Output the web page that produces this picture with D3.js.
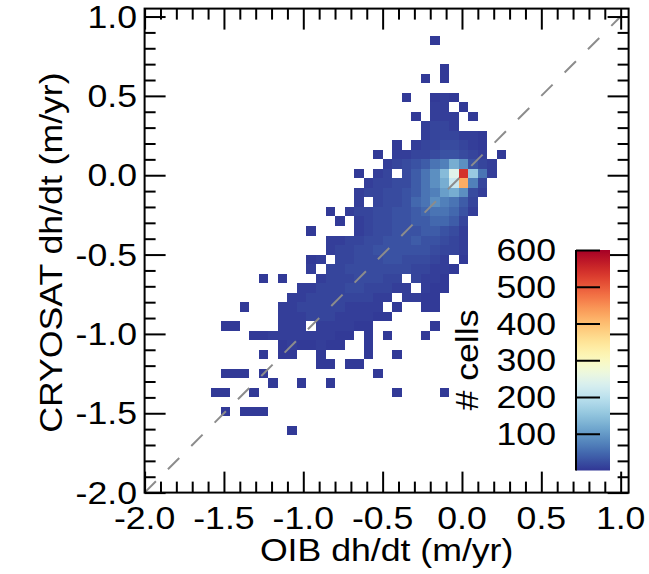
<!DOCTYPE html>
<html>
<head>
<meta charset="utf-8">
<script src="https://cdn.jsdelivr.net/npm/d3@7"></script>
<style>
  body { margin: 0; background: #fff; }
  svg { display: block; }
  text { font-family: "Liberation Sans", Arial, sans-serif; font-size: 31px; fill: #000; }
</style>
</head>
<body>
<svg id="chart" width="649" height="574"></svg>
<script>
// Density of CryoSat vs OIB dh/dt: 2-D histogram on a 0.06 m/yr grid
const binStart = -2.0;
const binWidth = 0.06;

// Count per code letter ('.' = empty bin)
const countCodes = {
  '1': 4, '2': 8, '3': 14, '4': 20, '5': 27, '6': 36, '7': 48, '8': 60, '9': 72,
  'a': 88, 'b': 105, 'c': 122, 'd': 140, 'e': 160, 'f': 215, 'g': 245, 'h': 420, 'i': 540
};

// [row index (y bin), first column index (x bin), codes for consecutive x bins]
const countRows = [
  [47, 30, "1"],
  [44, 31, "1"],
  [43, 29, "1.1"],
  [41, 27, "1..121"],
  [40, 30, "22.1"],
  [39, 28, "1.222.1"],
  [38, 29, "2332"],
  [37, 29, "2333221"],
  [36, 26, "1.23344321"],
  [35, 24, "1.2233455432.1"],
  [34, 25, "2345689ca532"],
  [33, 22, "1.23.468adgie82"],
  [32, 23, "2334468acfh93"],
  [31, 22, "233445689bca42"],
  [30, 22, "2.344578a9863"],
  [29, 19, "1.23344556788752"],
  [28, 20, "1.234455667763"],
  [27, 17, "1....234455566542"],
  [26, 19, "223344555655432"],
  [25, 19, "233445555554332"],
  [24, 17, "12.334445544432.1"],
  [23, 17, "2.33444444433221"],
  [22, 12, "1.1...233344433.3221"],
  [21, 16, "223334433322.211"],
  [20, 15, "22333333322.2211"],
  [19, 10, "1...22333332222.1..11"],
  [18, 14, "222333222211"],
  [17, 8, "11....222.222211......1"],
  [16, 11, "11222222211.1.1...1"],
  [15, 14, "1211211..1"],
  [14, 12, "1.11..1....1..1"],
  [13, 18, "11.11"],
  [12, 8, "111.1...........1"],
  [11, 13, "1..1..1"],
  [10, 7, "11..1..............1....1"],
  [8, 8, "1.111"],
  [6, 15, "1"]
];

const axisTicks = [-2.0, -1.5, -1.0, -0.5, 0.0, 0.5, 1.0];
const colorTicks = [100, 200, 300, 400, 500, 600];
const colorMax = 600;
const xTitle = "OIB dh/dt (m/yr)";
const yTitle = "CRYOSAT dh/dt (m/yr)";
const colorTitle = "# cells";

// Flatten the rows into bins
const bins = [];
countRows.forEach(([j, i0, codes]) => {
  [...codes].forEach((c, k) => {
    if (c !== '.') bins.push({ i: i0 + k, j: j, count: countCodes[c] });
  });
});

const svg = d3.select("#chart");
const plot = { left: 144.6, right: 628.6, top: 8.6, bottom: 492.6 };
const x = d3.scaleLinear().domain([-2, 1.05]).range([plot.left, plot.right]);
const y = d3.scaleLinear().domain([-2, 1.05]).range([plot.bottom, plot.top]);
const color = v => d3.interpolateRdYlBu(1 - Math.min(v, colorMax) / colorMax);
const textStretch = 1.15;

function label(parent, px, py, str, anchor, rot) {
  const g = parent.append("g")
    .attr("transform", `translate(${px},${py})${rot ? ` rotate(${rot})` : ""} scale(${textStretch},1)`);
  g.append("text").attr("text-anchor", anchor).text(str);
}

// Histogram cells
svg.append("g").selectAll("rect").data(bins).join("rect")
  .attr("x", d => x(binStart + binWidth * d.i))
  .attr("y", d => y(binStart + binWidth * (d.j + 1)))
  .attr("width", d => x(binStart + binWidth * (d.i + 1)) - x(binStart + binWidth * d.i))
  .attr("height", d => y(binStart + binWidth * d.j) - y(binStart + binWidth * (d.j + 1)))
  .attr("fill", d => color(d.count))
  .attr("shape-rendering", "crispEdges");

// 1:1 reference line
svg.append("line")
  .attr("x1", x(-2)).attr("y1", y(-2))
  .attr("x2", x(1)).attr("y2", y(1))
  .attr("stroke", "#8c8c8c").attr("stroke-width", 2)
  .attr("stroke-dasharray", "16,17");

// Frame
svg.append("rect")
  .attr("x", plot.left).attr("y", plot.top)
  .attr("width", plot.right - plot.left).attr("height", plot.bottom - plot.top)
  .attr("fill", "none").attr("stroke", "#000").attr("stroke-width", 2);

// Inward ticks on all four sides
const minorTicks = d3.range(-20, 11).map(k => k / 10).filter(v => Math.abs(v * 2 - Math.round(v * 2)) > 1e-6);
function tickAxis(axisFn, scale, values, len, tx, ty) {
  svg.append("g").attr("transform", `translate(${tx},${ty})`)
    .call(axisFn(scale).tickValues(values).tickSize(-len).tickFormat(""))
    .call(g => g.select(".domain").remove())
    .call(g => g.selectAll("line").attr("stroke", "#000").attr("stroke-width", 2));
}
[[axisTicks, 21], [minorTicks, 11]].forEach(([vals, len]) => {
  tickAxis(d3.axisBottom, x, vals, len, 0, plot.bottom);
  tickAxis(d3.axisTop, x, vals, len, 0, plot.top);
  tickAxis(d3.axisLeft, y, vals, len, plot.left, 0);
  tickAxis(d3.axisRight, y, vals, len, plot.right, 0);
});

// Tick labels
const fmt = v => v.toFixed(1);
axisTicks.forEach(v => label(svg, x(v), 529, fmt(v), "middle"));
axisTicks.forEach(v => label(svg, 137, y(v) + 11, fmt(v), "end"));

// Axis titles
label(svg, (plot.left + plot.right) / 2, 561, xTitle, "middle");
label(svg, 62, (plot.top + plot.bottom) / 2 + 2, yTitle, "middle", -90);

// Colour bar
const cb = { x: 576, w: 34, top: 250, bottom: 470.5 };
const c = d3.scaleLinear().domain([0, colorMax]).range([cb.bottom, cb.top]);
const grad = svg.append("defs").append("linearGradient")
  .attr("id", "cbar").attr("x1", 0).attr("y1", 1).attr("x2", 0).attr("y2", 0);
d3.range(0, 1.0001, 0.02).forEach(t => {
  grad.append("stop").attr("offset", t).attr("stop-color", color(t * colorMax));
});
svg.append("rect")
  .attr("x", cb.x).attr("y", c(colorMax))
  .attr("width", cb.w).attr("height", c(0) - c(colorMax))
  .attr("fill", "url(#cbar)");
svg.append("g").attr("transform", `translate(${cb.x},0)`)
  .call(d3.axisRight(c).tickValues(colorTicks).tickSize(24).tickFormat(""))
  .call(g => g.select(".domain").remove())
  .call(g => g.selectAll("line").attr("stroke", "#000").attr("stroke-width", 2));
svg.append("line")
  .attr("x1", cb.x).attr("x2", cb.x).attr("y1", c(colorMax)).attr("y2", c(0))
  .attr("stroke", "#000").attr("stroke-width", 2);
colorTicks.forEach(v => label(svg, 556, c(v) + 11, String(v), "end"));
label(svg, 478, 360, colorTitle, "middle", -90);
</script>
</body>
</html>
